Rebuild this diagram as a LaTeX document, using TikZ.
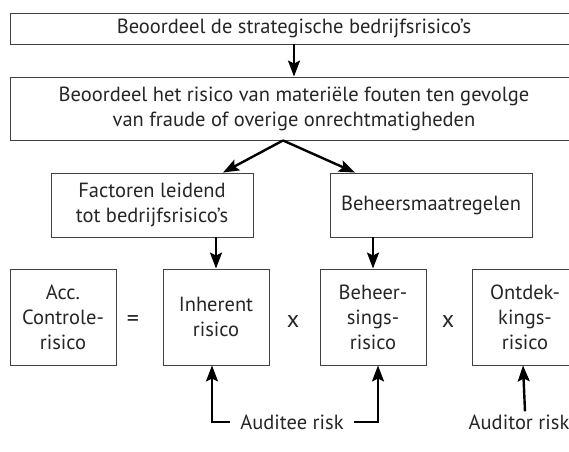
\documentclass[tikz,border=0pt]{standalone}
\usepackage{fontspec}
\setmainfont{PT Sans}
\usetikzlibrary{arrows.meta}
\begin{document}
\begin{tikzpicture}[x=1pt,y=-1pt,
  lbl/.style={inner sep=0pt, align=center, text=black!85, font=\fontsize{20.5}{25}\selectfont},
  op/.style={lbl, font=\fontsize{24}{25}\selectfont},
  box/.style={lbl, draw=black!75, line width=0.9pt},
  wbox/.style={box, minimum width=568pt},
  mbox/.style={box, minimum width=202pt, minimum height=64pt},
  sbox/.style={box, minimum width=106pt, minimum height=96pt},
  arr/.style={line width=2.4pt, -{Stealth[length=16pt,width=12pt,inset=3pt]}}]
\useasboundingbox (0,0) rectangle (569,451);
\clip (0,0) rectangle (569,451);
\node[wbox, minimum height=31pt] (top) at (294,28.5) {Beoordeel de strategische bedrijfsrisico's};
\node[wbox, minimum height=63pt] (risk) at (294,108.5) {Beoordeel het risico van materiële fouten ten gevolge\\van fraude of overige onrechtmatigheden};
\node[mbox] (fact) at (152,205) {Factoren leidend\\tot bedrijfsrisico's};
\node[mbox] (beh) at (431,205) {Beheersmaatregelen};
\node[sbox] (acc) at (63,317) {Acc.\\Controle-\\risico};
\node[sbox] (inh) at (216,317) {Inherent\\risico};
\node[sbox] (bs) at (373,317) {Beheer-\\sings-\\risico};
\node[sbox] (ont) at (525,317) {Ontdek-\\kings-\\risico};
\node[op] (eq) at (133,321) {=};
\node[op] (x1) at (293,321) {x};
\node[op] (x2) at (448,321) {x};
\node[lbl] (auditee) at (292,422) {Auditee risk};
\node[lbl] (auditor) at (519,422) {Auditor risk};
\coordinate (apex) at ([xshift=-11pt]risk.south);
\coordinate (factin) at ([xshift=71pt]fact.north);
\coordinate (behin) at ([xshift=-76pt]beh.north);
\draw[arr] (top.south) -- (risk.north);
\draw[arr] (apex) -- (factin);
\draw[arr] (apex) -- (behin);
\draw[arr] (fact.south -| inh.north) -- (inh.north);
\draw[arr] (beh.south -| bs.north) -- (bs.north);
\draw[arr] ([xshift=-10pt]auditee.west) -| ([xshift=-4pt]inh.south);
\draw[arr] ([xshift=10pt]auditee.east) -| ([xshift=5pt]bs.south);
\draw[arr] ([yshift=3pt]auditor.north -| ont.south) -- ([xshift=-2pt]ont.south);
\end{tikzpicture}
\end{document}
